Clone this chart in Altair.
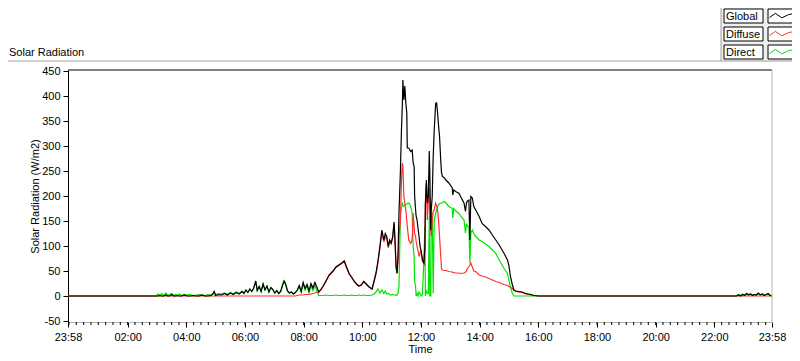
import altair as alt
import pandas as pd

# ---------------- data (minutes since midnight; -2 = 23:58 of previous day) ----------------
minutes = (
    [-2, 178, 182, 186, 190, 194, 198, 202, 206, 210, 214, 218, 222, 226, 230, 236, 242, 248, 254, 260,
     266, 272, 278, 284, 290, 294, 297, 300]
    + [306, 312, 318, 324, 330, 336, 342, 348, 354, 358]
    + [362, 366, 370, 374, 378, 382, 385, 389, 393, 397, 401, 405, 409, 413, 417, 421, 425, 429, 433, 437,
       440, 443, 447, 451, 455, 459, 463, 467, 471, 475, 479, 483, 487, 491, 495, 499, 503, 507]
    + [511, 515, 520, 525, 532, 540, 546, 552, 558, 563, 567, 573, 578, 583, 588, 593, 598, 603, 608, 614,
       620, 624, 628, 632, 636, 640, 644, 647, 650, 653, 656]
    + [659, 662, 665, 667, 669, 671, 673, 675, 678, 680, 682, 683, 685, 687, 689, 691, 692, 695, 699, 702,
       704, 706, 707, 709, 710, 712, 714, 716, 718, 720, 723, 726, 728, 729, 731, 733, 735, 737, 738, 740,
       741, 743, 745, 747, 750, 752, 754, 756, 758, 760, 762, 764]
    + [768, 771, 777, 784, 785, 787, 791, 798, 801, 808, 811, 813, 815, 818, 820, 822, 825, 828, 832, 839,
       845, 852, 859, 866, 873, 880, 890, 897, 900, 903, 907, 910, 914, 927, 934, 945, 951, 961]
    + [1362, 1366, 1370, 1374, 1378, 1382, 1386, 1390, 1394, 1398, 1402, 1406, 1410, 1414, 1418, 1422,
       1426, 1430, 1434, 1438]
)

global_wm2 = (
    [0, 0, 0, 1, 0, 0, 2, 0, 0, 3, 0, 0, 1, 0, 0, 2, 0, 0, 1, 0, 0, 2, 0, 0, 1, 4, 9, 1]
    + [3, 2, 5, 2, 6, 3, 7, 4, 9, 5]
    + [12, 7, 14, 9, 16, 30, 11, 19, 9, 24, 12, 20, 8, 17, 13, 6, 11, 5, 9, 22, 30, 24, 10, 6, 8, 4, 7,
       12, 21, 9, 27, 15, 23, 10, 25, 16, 27, 18]
    + [8, 13, 20, 29, 42, 50, 58, 62, 66, 70, 60, 45, 38, 30, 24, 20, 22, 29, 24, 18, 14, 30, 46, 70, 100,
       132, 112, 125, 119, 100, 112]
    + [106, 118, 148, 110, 60, 46, 80, 166, 252, 330, 386, 432, 392, 420, 386, 366, 296, 296, 289, 292,
       266, 259, 200, 172, 160, 152, 135, 119, 100, 92, 72, 66, 99, 186, 232, 186, 200, 290, 250, 132,
       172, 199, 279, 330, 385, 386, 366, 340, 319, 279, 246, 239]
    + [236, 232, 226, 216, 202, 212, 209, 205, 199, 186, 169, 186, 190, 192, 112, 199, 196, 179, 172, 159,
       145, 139, 132, 122, 112, 102, 85, 72, 60, 39, 22, 12, 10, 8, 5, 3, 1, 0]
    + [0, 0, 2, 0, 3, 1, 5, 2, 4, 1, 3, 2, 6, 2, 4, 1, 3, 5, 1, 0]
)

diffuse_wm2 = (
    [0] * 28
    + [0] * 10
    + [0] * 27 + [1, 2, 2, 2, 3, 3, 3, 4, 5, 6, 8]
    + [8, 12, 19, 28, 41, 49, 57, 61, 65, 70, 58, 44, 37, 30, 24, 20, 22, 29, 24, 18, 14, 29, 44, 66, 95,
       128, 108, 118, 115, 96, 108]
    + [104, 115, 145, 107, 58, 44, 70, 120, 150, 230, 266, 260, 199, 185, 172, 150, 139, 112, 105, 112,
       166, 139, 125, 119, 110, 99, 90, 79, 85, 92, 70, 64, 95, 180, 225, 152, 190, 215, 160, 130,
       120, 150, 170, 172, 186, 180, 172, 150, 119, 86, 55, 52]
    + [51, 51, 49, 48, 47, 47, 46, 46, 45, 46, 48, 50, 55, 59, 62, 66, 58, 50, 49, 42,
       40, 38, 35, 32, 29, 27, 23, 21, 19, 17, 15, 12, 9, 7, 4, 2, 1, 0]
    + [0] * 20
)

direct_wm2 = (
    [0, 0, 4, 2, 5, 1, 6, 2, 3, 5, 1, 3, 2, 4, 1, 3, 2, 3, 1, 2, 3, 2, 1, 3, 2, 4, 6, 3]
    + [5, 4, 6, 3, 7, 4, 8, 5, 10, 6]
    + [12, 7, 14, 9, 16, 30, 11, 19, 9, 24, 12, 20, 8, 17, 13, 6, 11, 5, 9, 22, 30, 24, 10, 6, 8, 4, 7,
       11, 19, 7, 25, 12, 20, 7, 21, 11, 21, 10]
    + [1, 1, 1, 2, 1, 1, 2, 1, 1, 2, 1, 1, 2, 1, 1, 2, 1, 2, 1, 1, 2, 4, 8, 14, 6, 12, 5, 10, 4, 5, 3]
    + [2, 3, 2, 2, 1, 2, 6, 19, 165, 175, 185, 182, 179, 182, 183, 184, 185, 186, 179, 165,
       100, 79, 30, 19, 0, 5, 0, 8, 5, 0, 3, 72, 139, 0, 10, 6, 5, 159, 0, 0,
       160, 166, 5, 150, 166, 172, 179, 183, 185, 185, 186, 187]
    + [189, 186, 179, 175, 156, 175, 170, 165, 160, 152, 126, 145, 139, 139, 66, 126, 132, 125, 119, 112,
       109, 104, 99, 92, 85, 72, 55, 45, 30, 18, 5, 0, 0, 0, 0, 0, 0, 0]
    + [0, 2, 3, 1, 4, 2, 5, 3, 4, 2, 3, 2, 5, 3, 4, 2, 3, 4, 2, 0]
)

assert len(minutes) == len(global_wm2) == len(diffuse_wm2) == len(direct_wm2)

series_names = ["Global", "Diffuse", "Direct"]
series_colors = ["#000000", "#ff3030", "#00e400"]

x_tick_values = [0, 122, 242, 362, 482, 602, 722, 842, 962, 1082, 1202, 1322, 1440]
x_tick_labels = ["23:58", "02:00", "04:00", "06:00", "08:00", "10:00", "12:00",
                 "14:00", "16:00", "18:00", "20:00", "22:00", "23:58"]
x_minor_ticks = list(range(2, 1440, 15))
y_tick_values = [-50, 0, 50, 100, 150, 200, 250, 300, 350, 400, 450]

# ---------------- layout ----------------
W, H = 704, 252
FONT = "Liberation Sans"

df = pd.DataFrame({
    "t": [m + 2 for m in minutes],
    "Global": global_wm2,
    "Diffuse": diffuse_wm2,
    "Direct": direct_wm2,
})
one = pd.DataFrame({"k": [0]})

x_scale = alt.Scale(domain=[0, 1440], nice=False, zero=False)
y_scale = alt.Scale(domain=[-52, 452], nice=False, zero=False)

label_expr = ("[" + ",".join(f"'{s}'" for s in x_tick_labels) + "][indexof(["
              + ",".join(str(v) for v in x_tick_values) + "], datum.value)]")

x_axis = alt.Axis(values=x_tick_values, labelExpr=label_expr, tickSize=5, labelPadding=4,
                  domainColor="#b4b4b4", tickColor="black", labelFlush=False, labelOverlap=False,
                  title="Time", titleY=30, titleBaseline="alphabetic")
y_axis = alt.Axis(values=y_tick_values, labelExpr="'' + datum.value", tickSize=5, labelPadding=3,
                  domainColor="black", tickColor="black", labelOverlap=False,
                  title="Solar Radiation (W/m2)", titleX=-33, titleY=H / 2, titleAngle=270,
                  titleAlign="center", titleBaseline="middle")

layers = []
# draw order: Direct, Diffuse, Global (black on top)
order = [("Direct", series_colors[2]), ("Diffuse", series_colors[1]), ("Global", series_colors[0])]
for name, col in order:
    layers.append(
        alt.Chart(df).mark_line(color=col, strokeWidth=1.2, interpolate="linear").encode(
            x=alt.X("t:Q", scale=x_scale, axis=x_axis),
            y=alt.Y(f"{name}:Q", scale=y_scale, axis=y_axis),
        )
    )

# minor x ticks
layers.append(
    alt.Chart(pd.DataFrame({"m": x_minor_ticks})).mark_rule(color="black", strokeWidth=1).encode(
        x=alt.X("m:Q", scale=x_scale, axis=x_axis), y=alt.value(H), y2=alt.value(H + 3)
    )
)

# plot frame: top black, right gray
layers.append(alt.Chart(one).mark_rule(color="black").encode(
    x=alt.value(0), x2=alt.value(W), y=alt.value(0)))
layers.append(alt.Chart(one).mark_rule(color="#b4b4b4").encode(
    x=alt.value(W), y=alt.value(0), y2=alt.value(H)))

# outer panel line and caption
layers.append(alt.Chart(one).mark_rule(color="#a0a0a0").encode(
    x=alt.value(-60), x2=alt.value(653), y=alt.value(-9)))
layers.append(alt.Chart(one).mark_text(text="Solar Radiation", align="left", baseline="alphabetic",
                                       font=FONT, fontSize=11, color="black").encode(
    x=alt.value(-59), y=alt.value(-14)))

# legend panel
layers.append(alt.Chart(one).mark_rect(fill="#efefef", stroke="#a0a0a0", strokeWidth=1).encode(
    x=alt.value(653), x2=alt.value(740), y=alt.value(-80), y2=alt.value(-9)))

ZIG = "M-1,0.12L-0.55,-0.2L-0.05,0.14L0.45,-0.1L1,-0.22"
for i, (name, col) in enumerate(zip(series_names, series_colors)):
    top = -61 + 18 * i
    ld = pd.DataFrame({"name": [name]})
    layers.append(alt.Chart(ld).mark_rect(fill="white", stroke="black", strokeWidth=1).encode(
        x=alt.value(656), x2=alt.value(695), y=alt.value(top), y2=alt.value(top + 14)))
    layers.append(alt.Chart(ld).mark_text(align="left", baseline="alphabetic", font=FONT,
                                          fontSize=11, color="black").encode(
        x=alt.value(658), y=alt.value(top + 11), text="name:N"))
    layers.append(alt.Chart(ld).mark_rect(fill="white", stroke="black", strokeWidth=1).encode(
        x=alt.value(700), x2=alt.value(729), y=alt.value(top), y2=alt.value(top + 14)))
    layers.append(alt.Chart(ld).mark_point(shape=ZIG, filled=False, size=676, strokeWidth=1,
                                           color=col, opacity=1).encode(
        x=alt.value(714.5), y=alt.value(top + 7)))

chart = alt.layer(*layers).properties(
    width=W, height=H,
    padding={"left": 60, "top": 62, "right": 20, "bottom": 31},
    autosize=alt.AutoSizeParams(type="none"),
).configure_view(stroke=None).configure_axis(
    labelFont=FONT, titleFont=FONT, labelFontSize=11, titleFontSize=11,
    titleFontWeight="normal", labelColor="black", titleColor="black", grid=False,
)

chart.save("out.html", embed_options={"renderer": "svg", "actions": False})
